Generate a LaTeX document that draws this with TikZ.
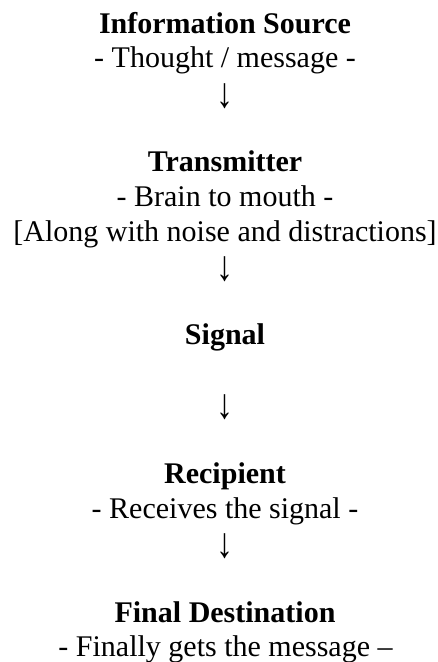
\documentclass[tikz,border=0pt]{standalone}
\usepackage{fontspec}
\setmainfont{Liberation Serif}
\newcommand{\tallarrow}{\resizebox*{!}{25.1pt}{\scalebox{0.8}[1]{↓}}}
\begin{document}
\begin{tikzpicture}[x=1pt,y=1pt,
  txt/.style={anchor=base, inner sep=0pt, font=\fontsize{30}{34.6}\selectfont},
  head/.style={anchor=base, inner sep=0pt, font=\fontsize{30}{34.6}\selectfont\bfseries},
  arr/.style={anchor=north, inner sep=0pt, font=\fontsize{30}{34.6}\selectfont}]
\useasboundingbox (0,0) rectangle (438,-662);
\node[head] (src)  at (225,-33.3)   {Information Source};
\node[txt]  (srcd) at (225,-67.93)  {- Thought / message -};
\node[arr]  (a1)   at (225,-83.16)  {\tallarrow};
\node[head] (tx)   at (225,-171.82) {Transmitter};
\node[txt]  (txd)  at (225,-206.45) {- Brain to mouth -};
\node[txt]  (txn)  at (225,-241.08) {[Along with noise and distractions]};
\node[arr]  (a2)   at (225,-256.31) {\tallarrow};
\node[head] (sig)  at (225,-344.97) {Signal};
\node[arr]  (a3)   at (225,-394.83) {\tallarrow};
\node[head] (rec)  at (225,-483.49) {Recipient};
\node[txt]  (recd) at (225,-518.12) {- Receives the signal -};
\node[arr]  (a4)   at (225,-533.35) {\tallarrow};
\node[head] (dst)  at (225,-622.01) {Final Destination};
\node[txt]  (dstd) at (225.5,-656.64) {- Finally gets the message –};
\end{tikzpicture}
\end{document}
